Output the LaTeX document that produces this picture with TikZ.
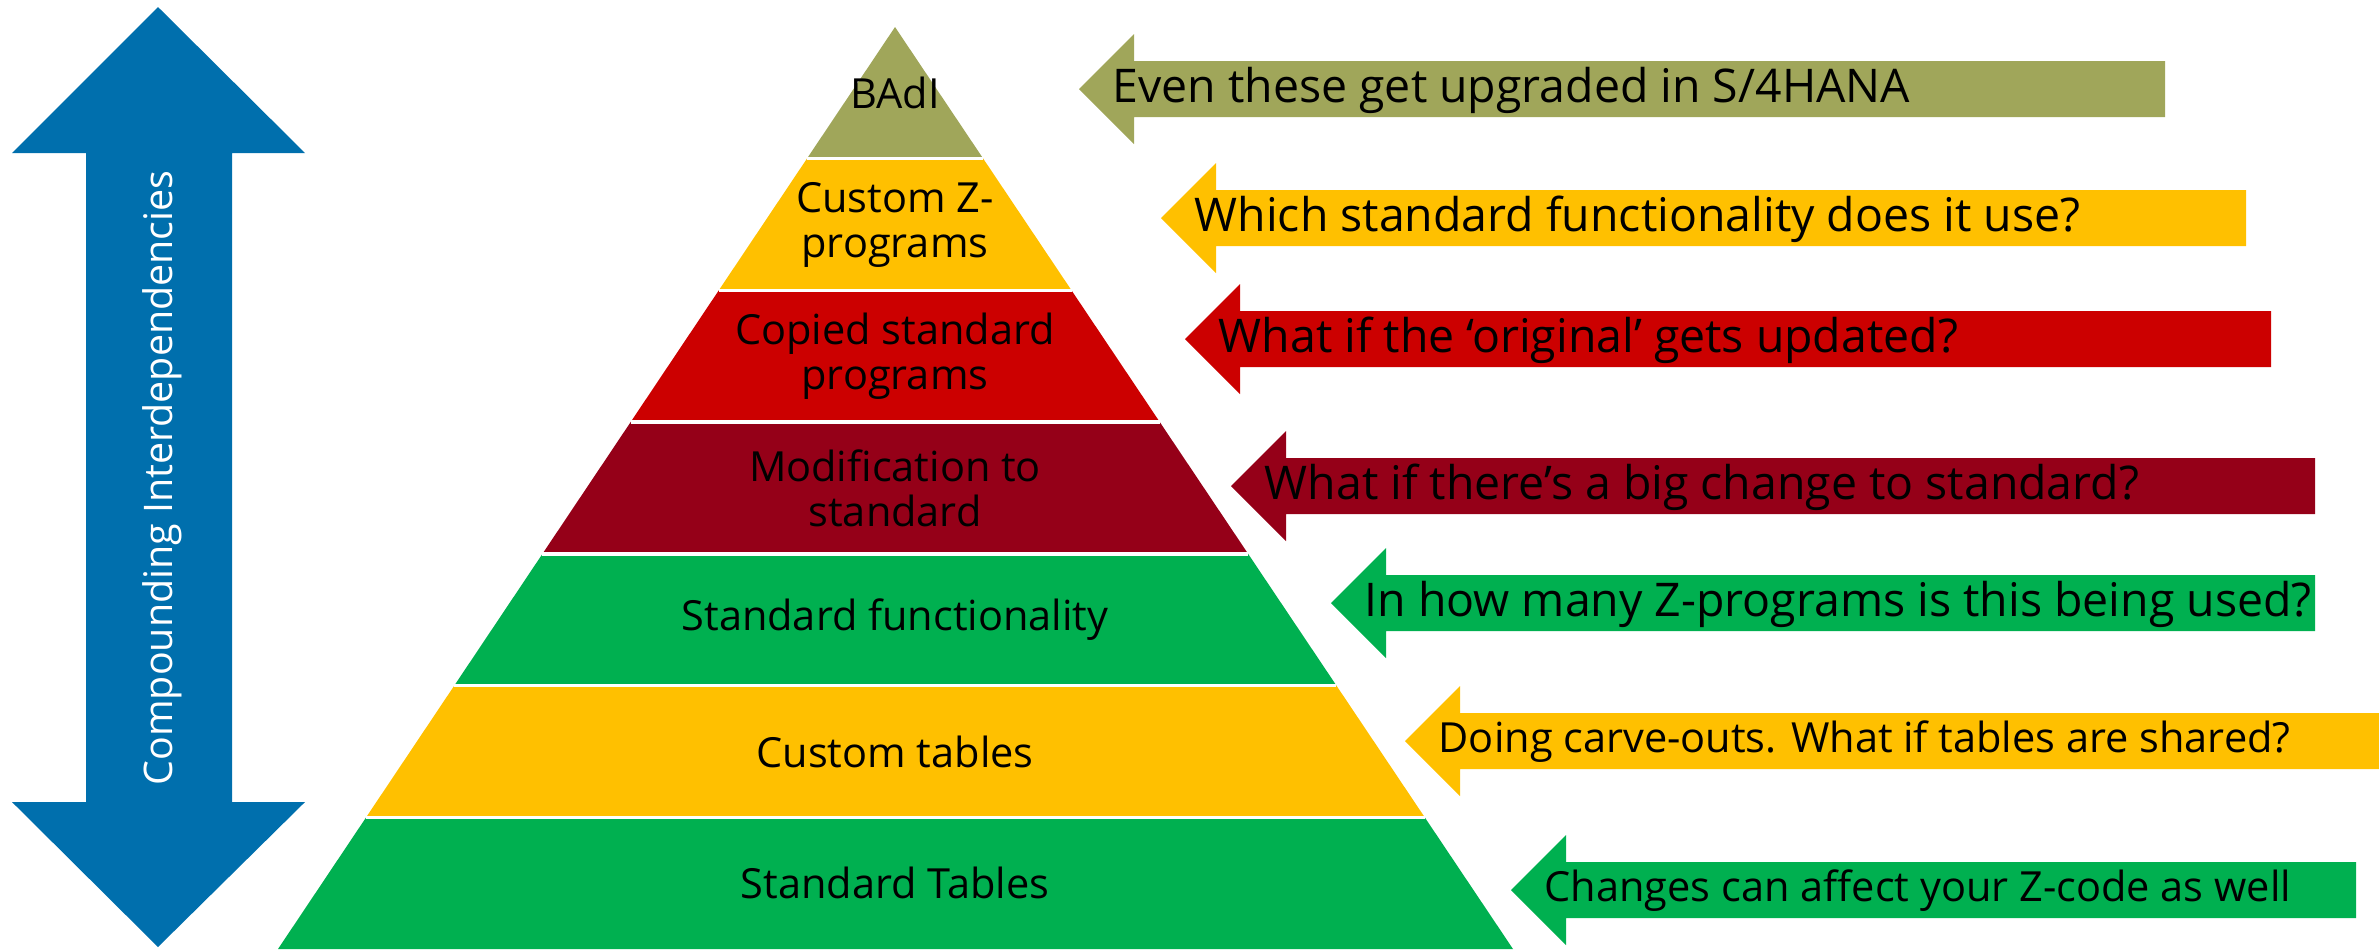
\documentclass[tikz,border=0pt]{standalone}
\usepackage{fontspec}
\setmainfont{Open Sans}
\usetikzlibrary{calc}

\definecolor{badiolive}{HTML}{A0A65A}
\definecolor{amber}{HTML}{FFC000}
\definecolor{brightred}{HTML}{CC0000}
\definecolor{winered}{HTML}{950018}
\definecolor{okgreen}{HTML}{00B050}
\definecolor{sapblue}{HTML}{006FAD}

\begin{document}
\begin{tikzpicture}[x=0.01cm,y=-0.01cm,
  layertext/.style={align=center,font=\fontsize{11.8}{12.8}\selectfont},
  notetext/.style={anchor=west,inner xsep=0pt,font=\fontsize{13.2}{15}\selectfont},
  smallnote/.style={anchor=west,inner xsep=0pt,font=\fontsize{11.8}{14}\selectfont}]
\useasboundingbox (0,0) rectangle (2379,950);

% Double arrow on the left
\fill[sapblue] (158,7) -- (305,153) -- (232,153) -- (232,802) -- (305,802)
  -- (158,947) -- (12,802) -- (86,802) -- (86,153) -- (12,153) -- cycle;
\node[text=white,rotate=90,font=\fontsize{11.2}{14}\selectfont] (axis) at (162,478) {Compounding Interdependencies};

% Pyramid
\coordinate (apex) at (895,27);
\coordinate (bl) at (278,949);
\coordinate (br) at (1513,949);
\foreach \i/\col/\txt in {0/badiolive/BAdI, 1/amber/{Custom Z-\\programs},
    2/brightred/{Copied standard\\programs}, 3/winered/{Modification to\\standard},
    4/okgreen/Standard functionality, 5/amber/Custom tables, 6/okgreen/Standard Tables}{
  \pgfmathsetmacro{\ta}{\i/7}
  \pgfmathsetmacro{\tb}{(\i+1)/7}
  \pgfmathsetmacro{\ym}{27+922*(\i+0.5)/7}
  \fill[\col] ($(apex)!\ta!(bl)$) -- ($(apex)!\tb!(bl)$) -- ($(apex)!\tb!(br)$) -- ($(apex)!\ta!(br)$) -- cycle;
  \node[layertext] (layer\i) at (895,\ym) {\txt};
}
% white gaps between layers
\foreach \i in {1,...,6}{
  \pgfmathsetmacro{\ta}{\i/7}
  \draw[white,line width=1pt] ($(apex)!\ta!(bl)$) -- ($(apex)!\ta!(br)$);
}

% Arrows with questions
\foreach \tip/\cy/\rx/\col/\fnt/\txt [count=\n] in {
    1079/89/2165/badiolive/notetext/{Even these get upgraded in S/4HANA},
    1161/218/2246/amber/notetext/{Which standard functionality does it use?},
    1185/339/2271/brightred/notetext/{What if the ‘original’ gets updated?},
    1231/486/2315/winered/notetext/{What if there’s a big change to standard?},
    1331/603/2315/okgreen/notetext/{In how many Z-programs is this being used?},
    1405/741/2379/amber/smallnote/{Doing carve-outs. What if tables are shared?},
    1511/890/2356/okgreen/smallnote/{Changes can affect your Z-code as well}}{
  \fill[\col] (\tip,\cy) -- (\tip+55,\cy-55) -- (\tip+55,\cy-28) -- (\rx,\cy-28)
    -- (\rx,\cy+28) -- (\tip+55,\cy+28) -- (\tip+55,\cy+55) -- cycle;
  \node[\fnt] (note\n) at (\tip+33,\cy+1) {\txt};
}
\end{tikzpicture}
\end{document}
